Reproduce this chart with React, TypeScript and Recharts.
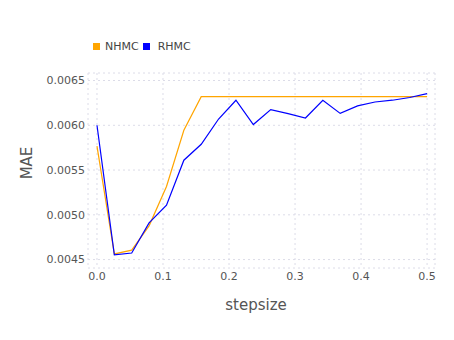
import { LineChart, Line, XAxis, YAxis, CartesianGrid, Legend } from 'recharts';

const stepsize = [
  0, 0.0263, 0.0526, 0.0789, 0.1053, 0.1316, 0.1579, 0.1842, 0.2105, 0.2368,
  0.2632, 0.2895, 0.3158, 0.3421, 0.3684, 0.3947, 0.4211, 0.4474, 0.4737, 0.5,
];
const nhmc = [
  0.005767, 0.004563, 0.004605, 0.004877, 0.005317, 0.005945, 0.00632, 0.00632, 0.00632, 0.00632,
  0.00632, 0.00632, 0.00632, 0.00632, 0.00632, 0.00632, 0.00632, 0.00632, 0.00632, 0.00632,
];
const rhmc = [
  0.006, 0.004552, 0.004573, 0.00491, 0.005107, 0.00561, 0.005788, 0.00607, 0.00628, 0.006008,
  0.006175, 0.00613, 0.006081, 0.00628, 0.006133, 0.006217, 0.00626, 0.00628, 0.00631, 0.006353,
];
const xTicks = [0, 0.1, 0.2, 0.3, 0.4, 0.5];
const yTicks = [0.0045, 0.005, 0.0055, 0.006, 0.0065];

const data = stepsize.map((s, i) => ({ stepsize: s, NHMC: nhmc[i], RHMC: rhmc[i] }));

const font = 'DejaVu Sans, sans-serif';

const LegendBox = ({ payload }: any) => (
  <div style={{ display: 'flex', fontFamily: font, fontSize: 11, color: '#444' }}>
    {(payload || []).map((p: any) => (
      <div key={p.value} style={{ display: 'flex', alignItems: 'center', marginRight: 4 }}>
        <span style={{ width: 7, height: 7, background: p.color, marginRight: p.value === 'NHMC' ? 5 : 8 }} />
        {p.value}
      </div>
    ))}
  </div>
);

const XTitle = () => (
  <text x={256} y={310} textAnchor="middle" fontFamily={font} fontSize={15} fill="#555">
    stepsize
  </text>
);

const YTitle = () => (
  <text
    x={32}
    y={163}
    textAnchor="middle"
    fontFamily={font}
    fontSize={15}
    fill="#555"
    transform="rotate(-90 32 163)"
  >
    MAE
  </text>
);

export default function App() {
  return (
    <div style={{ position: 'absolute', left: 0, top: 0, background: '#fff' }}>
      <LineChart width={454} height={340} data={data} margin={{ top: 60, right: 19, bottom: 22, left: 0 }}>
        <CartesianGrid stroke="#dcdce8" strokeDasharray="2 3" />
        <XAxis
          dataKey="stepsize"
          type="number"
          domain={[-0.0136, 0.512]}
          ticks={xTicks}
          allowDataOverflow
          axisLine={false}
          tickLine={false}
          tickSize={0}
          height={50}
          tickFormatter={(v: number) => v.toFixed(1)}
          tick={{ fontFamily: font, fontSize: 11, fill: '#555' }}
          tickMargin={4}
          label={<XTitle />}
        />
        <YAxis
          type="number"
          domain={[0.004406, 0.006584]}
          ticks={yTicks}
          allowDataOverflow
          axisLine={false}
          tickLine={false}
          tickSize={0}
          width={88}
          tickFormatter={(v: number) => v.toFixed(4)}
          tick={{ fontFamily: font, fontSize: 11, fill: '#555' }}
          tickMargin={3}
          label={<YTitle />}
        />
        <Legend
          verticalAlign="top"
          content={<LegendBox />}
          wrapperStyle={{ top: 40, left: 93, width: 'auto' }}
        />
        <Line type="linear" dataKey="NHMC" stroke="#FFA500" strokeWidth={1.2} dot={false} isAnimationActive={false} />
        <Line type="linear" dataKey="RHMC" stroke="#0000FF" strokeWidth={1.2} dot={false} isAnimationActive={false} />
      </LineChart>
    </div>
  );
}
